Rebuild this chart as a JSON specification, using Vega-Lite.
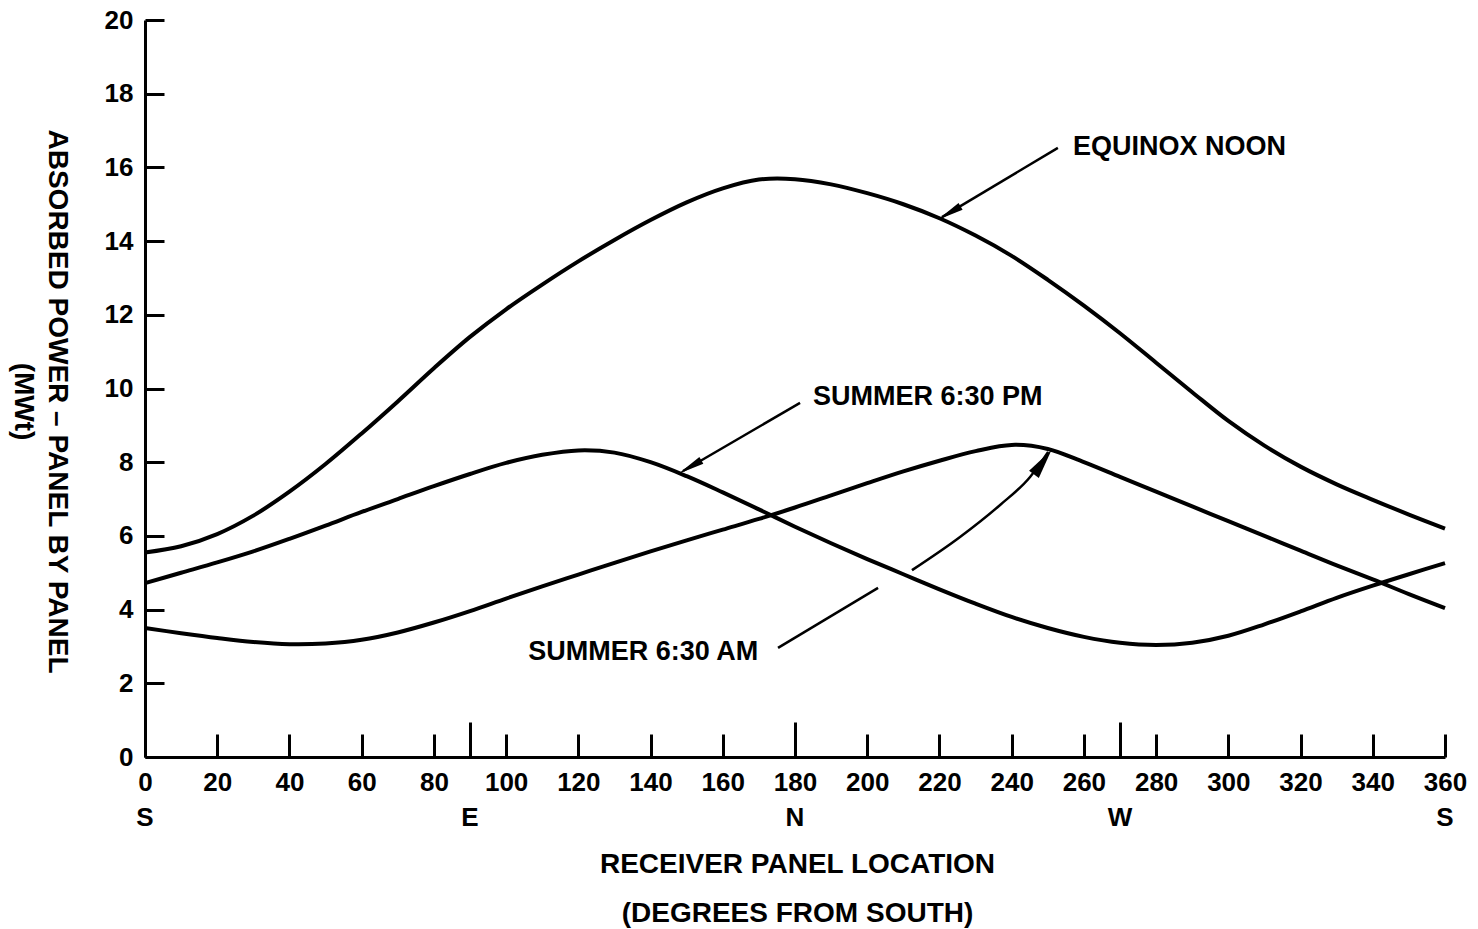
{
  "$schema": "https://vega.github.io/schema/vega-lite/v6.json",
  "width": 1300,
  "height": 737,
  "autosize": {"type": "none"},
  "padding": {"left": 145, "top": 20, "right": 33, "bottom": 172},
  "background": "white",
  "config": {
    "view": {"stroke": null},
    "font": "Liberation Sans",
    "axis": {
      "domainColor": "black",
      "domainWidth": 3,
      "tickColor": "black",
      "tickWidth": 3,
      "labelColor": "black",
      "labelFont": "Liberation Sans",
      "labelFontWeight": "bold",
      "labelFontSize": 26,
      "titleColor": "black",
      "titleFont": "Liberation Sans",
      "titleFontWeight": "bold",
      "titleFontSize": 28,
      "grid": false,
      "labelOverlap": false,
      "labelFlush": false,
      "labelBound": false
    }
  },
  "datasets": {
    "curves": [
      {"series": "Equinox noon", "deg": 0, "mw": 5.55},
      {"series": "Equinox noon", "deg": 10, "mw": 5.72},
      {"series": "Equinox noon", "deg": 20, "mw": 6.05},
      {"series": "Equinox noon", "deg": 30, "mw": 6.55},
      {"series": "Equinox noon", "deg": 40, "mw": 7.2},
      {"series": "Equinox noon", "deg": 50, "mw": 7.95},
      {"series": "Equinox noon", "deg": 60, "mw": 8.78},
      {"series": "Equinox noon", "deg": 70, "mw": 9.65},
      {"series": "Equinox noon", "deg": 80, "mw": 10.55},
      {"series": "Equinox noon", "deg": 90, "mw": 11.4},
      {"series": "Equinox noon", "deg": 100, "mw": 12.15},
      {"series": "Equinox noon", "deg": 110, "mw": 12.82},
      {"series": "Equinox noon", "deg": 120, "mw": 13.45},
      {"series": "Equinox noon", "deg": 130, "mw": 14.03},
      {"series": "Equinox noon", "deg": 140, "mw": 14.57},
      {"series": "Equinox noon", "deg": 150, "mw": 15.05},
      {"series": "Equinox noon", "deg": 160, "mw": 15.43},
      {"series": "Equinox noon", "deg": 170, "mw": 15.67},
      {"series": "Equinox noon", "deg": 180, "mw": 15.68},
      {"series": "Equinox noon", "deg": 190, "mw": 15.54},
      {"series": "Equinox noon", "deg": 200, "mw": 15.3},
      {"series": "Equinox noon", "deg": 210, "mw": 15.0},
      {"series": "Equinox noon", "deg": 220, "mw": 14.62},
      {"series": "Equinox noon", "deg": 230, "mw": 14.15},
      {"series": "Equinox noon", "deg": 240, "mw": 13.6},
      {"series": "Equinox noon", "deg": 250, "mw": 12.95},
      {"series": "Equinox noon", "deg": 260, "mw": 12.25},
      {"series": "Equinox noon", "deg": 270, "mw": 11.5},
      {"series": "Equinox noon", "deg": 280, "mw": 10.7},
      {"series": "Equinox noon", "deg": 290, "mw": 9.9},
      {"series": "Equinox noon", "deg": 300, "mw": 9.12},
      {"series": "Equinox noon", "deg": 310, "mw": 8.45},
      {"series": "Equinox noon", "deg": 320, "mw": 7.88},
      {"series": "Equinox noon", "deg": 330, "mw": 7.4},
      {"series": "Equinox noon", "deg": 340, "mw": 6.98},
      {"series": "Equinox noon", "deg": 350, "mw": 6.58},
      {"series": "Equinox noon", "deg": 360, "mw": 6.2},
      {"series": "Summer 6:30 PM", "deg": 0, "mw": 4.72},
      {"series": "Summer 6:30 PM", "deg": 10, "mw": 5.0},
      {"series": "Summer 6:30 PM", "deg": 20, "mw": 5.28},
      {"series": "Summer 6:30 PM", "deg": 30, "mw": 5.58},
      {"series": "Summer 6:30 PM", "deg": 40, "mw": 5.92},
      {"series": "Summer 6:30 PM", "deg": 50, "mw": 6.28},
      {"series": "Summer 6:30 PM", "deg": 60, "mw": 6.65},
      {"series": "Summer 6:30 PM", "deg": 70, "mw": 7.0},
      {"series": "Summer 6:30 PM", "deg": 80, "mw": 7.35},
      {"series": "Summer 6:30 PM", "deg": 90, "mw": 7.68},
      {"series": "Summer 6:30 PM", "deg": 100, "mw": 7.98},
      {"series": "Summer 6:30 PM", "deg": 110, "mw": 8.2},
      {"series": "Summer 6:30 PM", "deg": 120, "mw": 8.32},
      {"series": "Summer 6:30 PM", "deg": 130, "mw": 8.26},
      {"series": "Summer 6:30 PM", "deg": 140, "mw": 8.0},
      {"series": "Summer 6:30 PM", "deg": 150, "mw": 7.62},
      {"series": "Summer 6:30 PM", "deg": 160, "mw": 7.18},
      {"series": "Summer 6:30 PM", "deg": 170, "mw": 6.72},
      {"series": "Summer 6:30 PM", "deg": 180, "mw": 6.25},
      {"series": "Summer 6:30 PM", "deg": 190, "mw": 5.8},
      {"series": "Summer 6:30 PM", "deg": 200, "mw": 5.37},
      {"series": "Summer 6:30 PM", "deg": 210, "mw": 4.96},
      {"series": "Summer 6:30 PM", "deg": 220, "mw": 4.55},
      {"series": "Summer 6:30 PM", "deg": 230, "mw": 4.16},
      {"series": "Summer 6:30 PM", "deg": 240, "mw": 3.8},
      {"series": "Summer 6:30 PM", "deg": 250, "mw": 3.5},
      {"series": "Summer 6:30 PM", "deg": 260, "mw": 3.26},
      {"series": "Summer 6:30 PM", "deg": 270, "mw": 3.1},
      {"series": "Summer 6:30 PM", "deg": 280, "mw": 3.04},
      {"series": "Summer 6:30 PM", "deg": 290, "mw": 3.1},
      {"series": "Summer 6:30 PM", "deg": 300, "mw": 3.29},
      {"series": "Summer 6:30 PM", "deg": 310, "mw": 3.6},
      {"series": "Summer 6:30 PM", "deg": 320, "mw": 3.95},
      {"series": "Summer 6:30 PM", "deg": 330, "mw": 4.32},
      {"series": "Summer 6:30 PM", "deg": 340, "mw": 4.65},
      {"series": "Summer 6:30 PM", "deg": 350, "mw": 4.96},
      {"series": "Summer 6:30 PM", "deg": 360, "mw": 5.26},
      {"series": "Summer 6:30 AM", "deg": 0, "mw": 3.5},
      {"series": "Summer 6:30 AM", "deg": 10, "mw": 3.36},
      {"series": "Summer 6:30 AM", "deg": 20, "mw": 3.23},
      {"series": "Summer 6:30 AM", "deg": 30, "mw": 3.12},
      {"series": "Summer 6:30 AM", "deg": 40, "mw": 3.06},
      {"series": "Summer 6:30 AM", "deg": 50, "mw": 3.08},
      {"series": "Summer 6:30 AM", "deg": 60, "mw": 3.18},
      {"series": "Summer 6:30 AM", "deg": 70, "mw": 3.38},
      {"series": "Summer 6:30 AM", "deg": 80, "mw": 3.65},
      {"series": "Summer 6:30 AM", "deg": 90, "mw": 3.96},
      {"series": "Summer 6:30 AM", "deg": 100, "mw": 4.3},
      {"series": "Summer 6:30 AM", "deg": 110, "mw": 4.63},
      {"series": "Summer 6:30 AM", "deg": 120, "mw": 4.95},
      {"series": "Summer 6:30 AM", "deg": 130, "mw": 5.27},
      {"series": "Summer 6:30 AM", "deg": 140, "mw": 5.58},
      {"series": "Summer 6:30 AM", "deg": 150, "mw": 5.88},
      {"series": "Summer 6:30 AM", "deg": 160, "mw": 6.17},
      {"series": "Summer 6:30 AM", "deg": 170, "mw": 6.46},
      {"series": "Summer 6:30 AM", "deg": 180, "mw": 6.77},
      {"series": "Summer 6:30 AM", "deg": 190, "mw": 7.1},
      {"series": "Summer 6:30 AM", "deg": 200, "mw": 7.43},
      {"series": "Summer 6:30 AM", "deg": 210, "mw": 7.75},
      {"series": "Summer 6:30 AM", "deg": 220, "mw": 8.04},
      {"series": "Summer 6:30 AM", "deg": 230, "mw": 8.3},
      {"series": "Summer 6:30 AM", "deg": 240, "mw": 8.47},
      {"series": "Summer 6:30 AM", "deg": 250, "mw": 8.36},
      {"series": "Summer 6:30 AM", "deg": 260, "mw": 8.0},
      {"series": "Summer 6:30 AM", "deg": 270, "mw": 7.6},
      {"series": "Summer 6:30 AM", "deg": 280, "mw": 7.2},
      {"series": "Summer 6:30 AM", "deg": 290, "mw": 6.8},
      {"series": "Summer 6:30 AM", "deg": 300, "mw": 6.4},
      {"series": "Summer 6:30 AM", "deg": 310, "mw": 6.0},
      {"series": "Summer 6:30 AM", "deg": 320, "mw": 5.6},
      {"series": "Summer 6:30 AM", "deg": 330, "mw": 5.2},
      {"series": "Summer 6:30 AM", "deg": 340, "mw": 4.82},
      {"series": "Summer 6:30 AM", "deg": 350, "mw": 4.42},
      {"series": "Summer 6:30 AM", "deg": 360, "mw": 4.04}
    ],
    "notes": [
      {"label": "EQUINOX NOON", "deg": 257.0, "mw": 16.55},
      {"label": "SUMMER 6:30 PM", "deg": 185.0, "mw": 9.77},
      {"label": "SUMMER 6:30 AM", "deg": 106.1, "mw": 2.85}
    ],
    "leaders": [
      {"seg": "equinox", "deg": 252.8, "mw": 16.53},
      {"seg": "equinox", "deg": 220.7, "mw": 14.65},
      {"seg": "pm", "deg": 181.4, "mw": 9.61},
      {"seg": "pm", "deg": 149.0, "mw": 7.76},
      {"seg": "am1", "deg": 175.3, "mw": 2.96},
      {"seg": "am1", "deg": 203.0, "mw": 4.59},
      {"seg": "am2", "deg": 212.4, "mw": 5.07},
      {"seg": "am2", "deg": 225.7, "mw": 5.97},
      {"seg": "am2", "deg": 236.8, "mw": 6.84},
      {"seg": "am2", "deg": 245.1, "mw": 7.6},
      {"seg": "am2", "deg": 250.1, "mw": 8.28}
    ],
    "compass": [
      {"point": "S", "deg": 0},
      {"point": "E", "deg": 90},
      {"point": "N", "deg": 180},
      {"point": "W", "deg": 270},
      {"point": "S", "deg": 360}
    ]
  },
  "layer": [
    {
      "data": {"name": "curves"},
      "mark": {"type": "line", "interpolate": "catmull-rom", "color": "black", "strokeWidth": 4, "clip": false},
      "encoding": {
        "x": {
          "field": "deg",
          "type": "quantitative",
          "scale": {"domain": [0, 360], "nice": false, "zero": false},
          "axis": {
            "values": [0, 20, 40, 60, 80, 90, 100, 120, 140, 160, 180, 200, 220, 240, 260, 270, 280, 300, 320, 340, 360],
            "labelExpr": "datum.value == 90 || datum.value == 270 ? '' : datum.label",
            "tickSize": {"condition": {"test": "datum.value == 90 || datum.value == 180 || datum.value == 270", "value": -35}, "value": -23},
            "labelPadding": {"condition": {"test": "datum.value == 90 || datum.value == 180 || datum.value == 270", "value": 47}, "value": 35},
            "title": ["RECEIVER PANEL LOCATION", "(DEGREES FROM SOUTH)"],
            "titleLineHeight": 49,
            "titleBaseline": "alphabetic",
            "titleY": 115,
            "titleX": 652
          }
        },
        "y": {
          "field": "mw",
          "type": "quantitative",
          "scale": {"domain": [0, 20], "nice": false, "zero": true},
          "axis": {
            "values": [0, 2, 4, 6, 8, 10, 12, 14, 16, 18, 20],
            "tickSize": -19,
            "labelPadding": 31,
            "title": ["ABSORBED POWER – PANEL BY PANEL", "(MWt)"],
            "titleAngle": 90,
            "titleAlign": "center",
            "titleBaseline": "alphabetic",
            "titleLineHeight": 34,
            "titleX": -97,
            "titleY": 381
          }
        },
        "detail": {"field": "series"}
      }
    },
    {
      "data": {"name": "leaders"},
      "mark": {"type": "line", "color": "black", "strokeWidth": 2.5, "interpolate": "monotone"},
      "encoding": {
        "x": {"field": "deg", "type": "quantitative"},
        "y": {"field": "mw", "type": "quantitative"},
        "detail": {"field": "seg"}
      }
    },
    {
      "data": {"values": [{"deg": 222.7, "mw": 14.76}]},
      "mark": {"type": "point", "shape": "M0,-1L0.3,1L-0.3,1Z", "filled": true, "color": "black", "opacity": 1, "size": 700, "angle": 239.3},
      "encoding": {"x": {"field": "deg", "type": "quantitative"}, "y": {"field": "mw", "type": "quantitative"}}
    },
    {
      "data": {"values": [{"deg": 150.9, "mw": 7.87}]},
      "mark": {"type": "point", "shape": "M0,-1L0.3,1L-0.3,1Z", "filled": true, "color": "black", "opacity": 1, "size": 700, "angle": 239.8},
      "encoding": {"x": {"field": "deg", "type": "quantitative"}, "y": {"field": "mw", "type": "quantitative"}}
    },
    {
      "data": {"values": [{"deg": 248.6, "mw": 8.0}]},
      "mark": {"type": "point", "shape": "M0,-1L0.4,1L-0.4,1Z", "filled": true, "color": "black", "opacity": 1, "size": 900, "angle": 35.8},
      "encoding": {"x": {"field": "deg", "type": "quantitative"}, "y": {"field": "mw", "type": "quantitative"}}
    },
    {
      "data": {"name": "notes"},
      "mark": {"type": "text", "align": "left", "baseline": "middle", "font": "Liberation Sans", "fontWeight": "bold", "fontSize": 27, "color": "black"},
      "encoding": {
        "x": {"field": "deg", "type": "quantitative"},
        "y": {"field": "mw", "type": "quantitative"},
        "text": {"field": "label"}
      }
    },
    {
      "data": {"name": "compass"},
      "mark": {"type": "text", "align": "center", "baseline": "middle", "font": "Liberation Sans", "fontWeight": "bold", "fontSize": 26, "color": "black", "clip": false},
      "encoding": {
        "x": {"field": "deg", "type": "quantitative"},
        "y": {"datum": -1.65, "type": "quantitative"},
        "text": {"field": "point"}
      }
    }
  ]
}
